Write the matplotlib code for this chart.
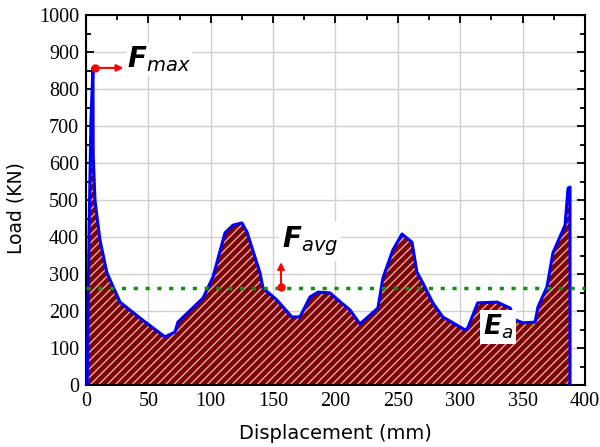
import matplotlib.pyplot as plt

# Fonts
plt.rcParams['font.family'] = 'DejaVu Sans'
plt.rcParams['mathtext.fontset'] = 'custom'
plt.rcParams['mathtext.it'] = 'DejaVu Sans:italic'
plt.rcParams['mathtext.bfit'] = 'DejaVu Sans:italic:bold'
plt.rcParams['mathtext.rm'] = 'DejaVu Sans'
plt.rcParams['hatch.color'] = '#d8b0b0'
plt.rcParams['hatch.linewidth'] = 1.0

# Data (load-displacement curve)
disp = [1, 2.5, 4, 5.6, 5.8, 7.2, 11.2, 16.8, 27.3, 43.3, 63.3, 71.3, 73.7,
        93.8, 101.8, 111.4, 117.8, 125, 129, 139.5, 141.9, 153, 165, 171.5,
        179.6, 186, 195.6, 202, 211.6, 219.6, 234, 238, 246, 253.3, 261.3,
        265.3, 270, 278, 286, 303.8, 306, 314, 329.5, 340, 344, 350.3, 360,
        362.3, 369.5, 374.3, 384, 386.4, 388, 388]
load = [0, 420, 720, 857, 620, 500, 392, 303, 224, 181, 130, 143, 170,
        235, 292, 411, 432, 438, 414, 303, 262, 230, 184, 184,
        238, 251, 249, 230, 203, 165, 208, 289, 365, 408, 386,
        305, 276, 222, 184, 149, 154, 222, 224, 208, 176, 168, 170,
        211, 265, 357, 432, 532, 535, 0]

f_avg = 262
f_max_point = (7, 857)
xticks = list(range(0, 401, 50))
yticks = list(range(0, 1001, 100))

fig = plt.figure(figsize=(6, 4.47), dpi=100)
ax = fig.add_axes([0.1433, 0.1387, 0.8317, 0.8277])

# Energy area
ax.fill_between(disp, load, 0, facecolor='#800000', edgecolor='#d8b0b0',
                hatch='////', linewidth=0, zorder=2)
ax.plot(disp, load, color='blue', lw=2.2, zorder=3, solid_joinstyle='round')

# Average force line
ax.axhline(f_avg, color='#1a8a1a', lw=2.5, linestyle=(0, (1.2, 2.2)), zorder=4)

# Fmax marker + arrow
ax.plot(*f_max_point, 'o', color='red', ms=5, zorder=5)
ax.annotate('', xy=(30, f_max_point[1]), xytext=f_max_point,
            arrowprops=dict(arrowstyle='-|>', color='red', lw=1.5,
                            mutation_scale=10, shrinkA=0, shrinkB=0), zorder=5)
ax.text(33, 858, r'$\mathbfit{F}_{max}$', fontsize=20, ha='left', va='baseline',
        zorder=6, bbox=dict(facecolor='white', edgecolor='none', pad=1))

# Favg marker + arrow
ax.plot(156.3, 266, 'o', color='red', ms=5, zorder=5)
ax.annotate('', xy=(156.3, 332), xytext=(156.3, 266),
            arrowprops=dict(arrowstyle='-|>', color='red', lw=1.5,
                            mutation_scale=10, shrinkA=0, shrinkB=0), zorder=5)
ax.text(157, 373, r'$\mathbfit{F}_{avg}$', fontsize=20, ha='left', va='baseline',
        zorder=6, bbox=dict(facecolor='white', edgecolor='none', pad=2))

# Energy label
ax.text(318, 136, r'$\mathbfit{E}_{a}$', fontsize=19, ha='left', va='baseline',
        zorder=6, bbox=dict(facecolor='white', edgecolor='none', pad=2))

# Axes formatting
ax.set_xlim(0, 400)
ax.set_ylim(0, 1000)
ax.set_xticks(xticks)
ax.set_yticks(yticks)
ax.set_xticks(range(25, 400, 50), minor=True)
ax.set_yticks(range(50, 1000, 100), minor=True)
ax.grid(True, which='major', color='#d0d0d0', lw=1, zorder=0)
ax.set_axisbelow(True)
ax.tick_params(which='both', direction='in', top=True, right=True,
               width=1.3, colors='black', labelsize=14.5, pad=5)
ax.tick_params(which='major', length=6)
ax.tick_params(which='minor', length=3.5)
for lab in ax.get_xticklabels() + ax.get_yticklabels():
    lab.set_fontfamily('Liberation Serif')
for s in ax.spines.values():
    s.set_linewidth(1.5)

ax.set_xlabel('Displacement (mm)', fontsize=14)
ax.set_ylabel('Load (KN)', fontsize=13.5)
ax.xaxis.set_label_coords(0.5, -0.105)
ax.yaxis.set_label_coords(-0.122, 0.478)

fig.savefig('out.png', dpi=100)
